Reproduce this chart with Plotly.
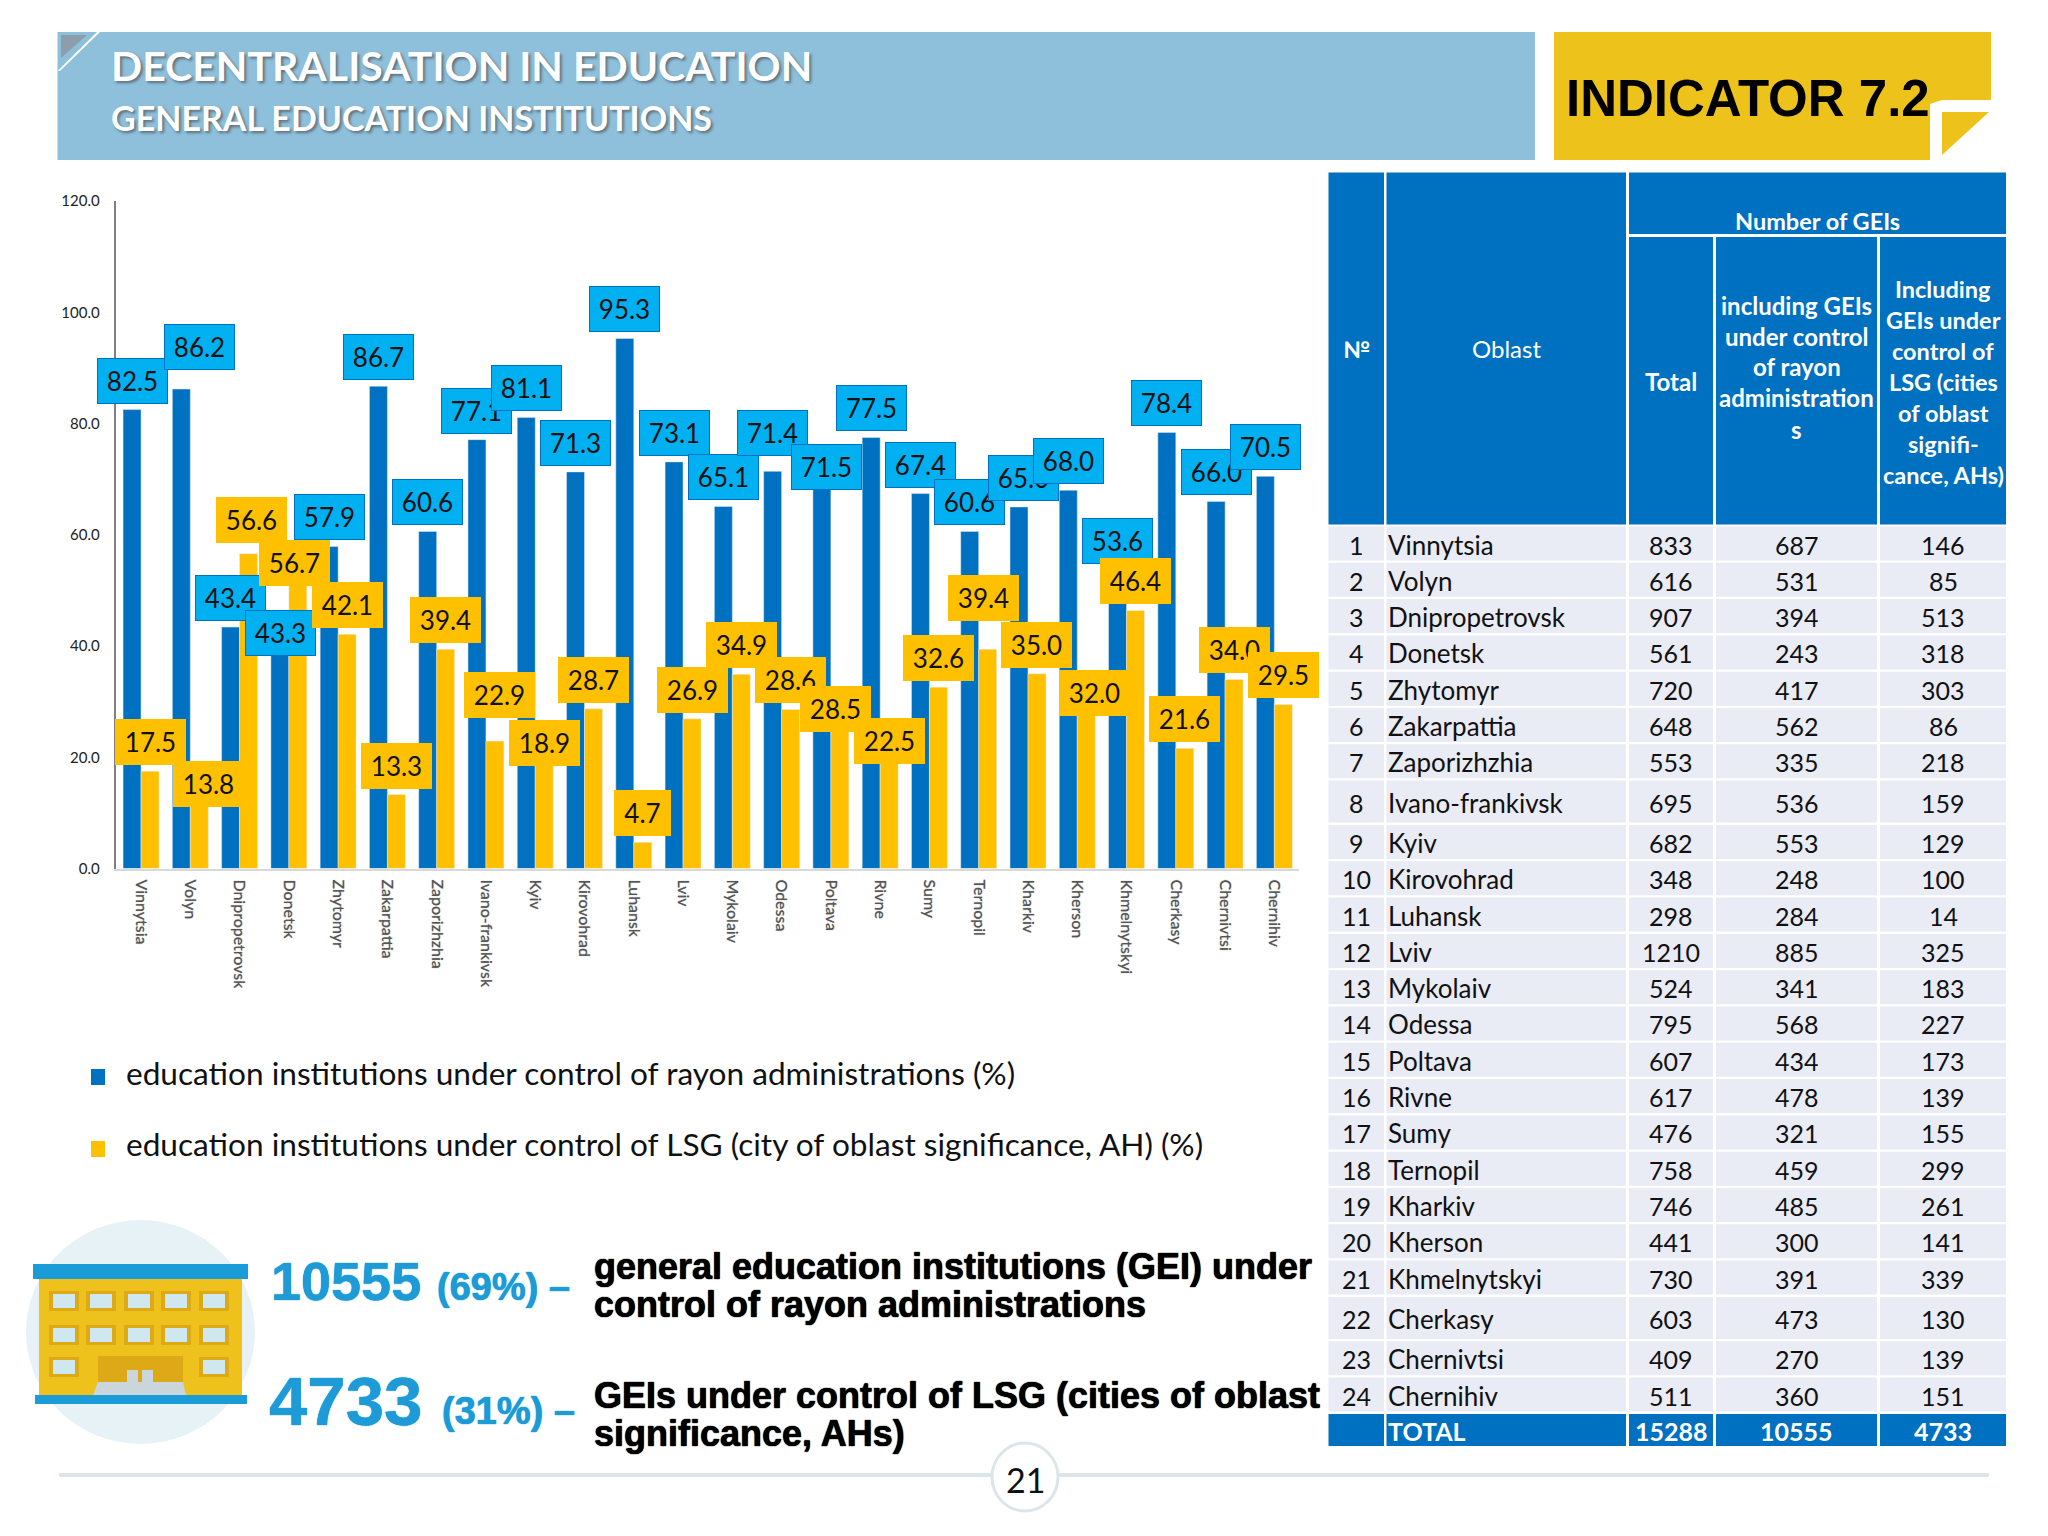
import plotly.graph_objects as go

# ---------- data ----------
oblasts = ["Vinnytsia","Volyn","Dnipropetrovsk","Donetsk","Zhytomyr","Zakarpattia","Zaporizhzhia",
           "Ivano-frankivsk","Kyiv","Kirovohrad","Luhansk","Lviv","Mykolaiv","Odessa","Poltava","Rivne",
           "Sumy","Ternopil","Kharkiv","Kherson","Khmelnytskyi","Cherkasy","Chernivtsi","Chernihiv"]
rayon_pct = [82.5,86.2,43.4,43.3,57.9,86.7,60.6,77.1,81.1,71.3,95.3,73.1,65.1,71.4,71.5,77.5,67.4,60.6,65.0,68.0,53.6,78.4,66.0,70.5]
lsg_pct = [17.5,13.8,56.6,56.7,42.1,13.3,39.4,22.9,18.9,28.7,4.7,26.9,34.9,28.6,28.5,22.5,32.6,39.4,35.0,32.0,46.4,21.6,34.0,29.5]
total_gei = [833,616,907,561,720,648,553,695,682,348,298,1210,524,795,607,617,476,758,746,441,730,603,409,511]
rayon_gei = [687,531,394,243,417,562,335,536,553,248,284,885,341,568,434,478,321,459,485,300,391,473,270,360]
lsg_gei = [146,85,513,318,303,86,218,159,129,100,14,325,183,227,173,139,155,299,261,141,339,130,139,151]
totals = ["15288","10555","4733"]
y_ticks = [0,20,40,60,80,100,120]

# label displacement from the usual place above its bar, in screen px (dx, dy up)
rayon_label_shift = {1:(18,13),3:(1,-34),13:(0,9),14:(5,-25),18:(5,0)}
lsg_label_shift = {1:(9,-21),2:(3,5),3:(-3,-39),7:(5,17),8:(0,-9),14:(-4,-28),15:(0,-27),17:(-4,22),19:(8,-31)}

# ---------- palette / fonts ----------
BLUE, ORANGE, SKY = "#0070C0", "#FFC000", "#00B0F0"
LATO, ARIAL = "Lato", "Liberation Sans"
W, H = 2048, 1536
PX, PY = lambda v: v / W, lambda v: 1 - v / H

fig = go.Figure()
fig.add_bar(x=oblasts, y=rayon_pct, marker_color=BLUE, name="rayon", hoverinfo="skip")
fig.add_bar(x=oblasts, y=lsg_pct, marker_color=ORANGE, name="lsg", hoverinfo="skip")

shapes, notes = [], []
def rect(x0, y0, x1, y1, color, line=None, lw=0):
    shapes.append(dict(type="rect", xref="paper", yref="paper", x0=PX(x0), x1=PX(x1), y0=PY(y0), y1=PY(y1),
                       fillcolor=color, line=dict(color=line or color, width=lw), layer="below"))
def poly(points, color):
    path = "M " + " L ".join(f"{PX(a)},{PY(b)}" for a, b in points) + " Z"
    shapes.append(dict(type="path", xref="paper", yref="paper", path=path, fillcolor=color, line=dict(width=0), layer="below"))
def ellipse(x0, y0, x1, y1, color, line=None, lw=0):
    shapes.append(dict(type="circle", xref="paper", yref="paper", x0=PX(x0), x1=PX(x1), y0=PY(y0), y1=PY(y1),
                       fillcolor=color, line=dict(color=line or color, width=lw), layer="below"))
def text(x, y, s, size, color="#000000", family=LATO, weight=400, anchor="center", shadow=None):
    font = dict(size=size, color=color, family=family, weight=weight)
    if shadow:
        font["shadow"] = shadow
    notes.append(dict(xref="paper", yref="paper", x=PX(x), y=PY(y), text=s, showarrow=False, xanchor=anchor,
                      yanchor="middle", font=font, borderpad=0))

# ---------- header ----------
rect(57.5, 32, 1535, 160, "#8EC0DC")
poly([(61, 35), (87, 35), (61, 58)], "#8C9EAB")
poly([(97, 32), (100, 32), (60, 71), (57.5, 71)], "#FFFFFF")
SH = "2px 2px 3px #5f6f78"
text(110, 65, "DECENTRALISATION IN EDUCATION", 41, "#FFFFFF", LATO, 700, "left", SH)
text(110, 118, "GENERAL EDUCATION INSTITUTIONS", 34, "#FFFFFF", LATO, 700, "left", SH)
poly([(1554, 32), (1991, 32), (1991, 100), (1942, 100), (1930, 104), (1930, 160), (1554, 160)], "#EDC21B")
poly([(1942, 112), (1989, 112), (1942, 155)], "#EDC21B")
text(1565, 98, "INDICATOR 7.2", 51, "#000000", ARIAL, 700, "left")

# ---------- bar labels ----------
for series, bar_dx, fill, edge, shifts in ((rayon_pct, -9, SKY, BLUE, rayon_label_shift),
                                           (lsg_pct, 9, ORANGE, ORANGE, lsg_label_shift)):
    for i, v in enumerate(series):
        dx, dy = shifts.get(i, (0, 0))
        s = f"{v:.1f}"
        notes.append(dict(x=oblasts[i], y=v, xref="x", yref="y", text=s, showarrow=False,
                          xshift=bar_dx + dx, yshift=29 + dy, width=69 if v >= 10 else 55, height=44,
                          bgcolor=fill, bordercolor=edge, borderwidth=1, borderpad=0, align="center", valign="middle",
                          font=dict(size=26, color="#111111", family=LATO)))

# ---------- legend ----------
rect(91, 1069, 105, 1085, BLUE)
rect(91, 1141, 105, 1157, ORANGE)
text(125, 1073, "education institutions under control of rayon administrations (%)", 31.6, "#111111", LATO, 400, "left")
text(125, 1144, "education institutions under control of LSG (city of oblast significance, AH) (%)", 31.6, "#111111", LATO, 400, "left")

# ---------- building ----------
ellipse(26, 1220, 255, 1444, "#E6F2F6")
rect(39, 1279, 242, 1395, "#EFC11D")
rect(33, 1264, 248, 1279, "#1A9CD8")
rect(35, 1395, 247, 1404, "#1A9CD8")
for wy, cols in ((1301, (64, 101, 139, 176, 214)), (1335, (64, 101, 139, 176, 214)), (1367, (64, 214))):
    for wx in cols:
        rect(wx - 15, wy - 10, wx + 15, wy + 10, "#DDA917")
        rect(wx - 11, wy - 7, wx + 11, wy + 7, "#CFE7EE")
rect(98, 1356, 183, 1385, "#DDA917")
poly([(98, 1382), (183, 1382), (186, 1395), (93, 1395)], "#CBD6DC")
rect(127, 1370, 138, 1382, "#CBD6DC")
rect(142, 1370, 153, 1382, "#CBD6DC")

# ---------- key figures ----------
C = "#1E9BD7"
HEAVY = "0 0 1px #000000, 0 0 1px #000000"
HEAVY_C = "0 0 1px #1E9BD7, 0 0 1px #1E9BD7"
text(270, 1281, "10555", 54, C, ARIAL, 700, "left", HEAVY_C)
text(436, 1287, "(69%) –", 38, C, ARIAL, 700, "left", HEAVY_C)
text(268, 1401, "4733", 69, C, ARIAL, 700, "left", HEAVY_C)
text(441, 1411, "(31%) –", 38, C, ARIAL, 700, "left", HEAVY_C)
text(593, 1266, "general education institutions (GEI) under", 36, "#000000", ARIAL, 700, "left", HEAVY)
text(593, 1304, "control of rayon administrations", 36, "#000000", ARIAL, 700, "left", HEAVY)
text(593, 1395, "GEIs under control of LSG (cities of oblast", 36, "#000000", ARIAL, 700, "left", HEAVY)
text(593, 1433, "significance, AHs)", 36, "#000000", ARIAL, 700, "left", HEAVY)

# ---------- footer ----------
rect(59, 1473, 1989, 1477, "#DCE6EA")
ellipse(992, 1443, 1058, 1511, "#FFFFFF", "#DCE6EA", 3)
text(1025, 1479, "21", 34, "#111111", LATO)

# ---------- table ----------
col_edges = [(1328.5, 1384), (1386.5, 1626), (1629, 1713), (1716, 1877), (1880, 2006)]
col_mid = [(a + b) / 2 for a, b in col_edges]
rect(1328.5, 172.5, col_edges[0][1], 524.5, BLUE)
rect(*(col_edges[1][0], 172.5), col_edges[1][1], 524.5, BLUE)
rect(1629, 172.5, 2006, 234, BLUE)
for a, b in col_edges[2:]:
    rect(a, 237, b, 524.5, BLUE)
text(col_mid[0], 349, "№", 23, "#FFFFFF", LATO, 700)
text(col_mid[1], 349, "Oblast", 24, "#FFFFFF", LATO)
text(1817, 221, "Number of GEIs", 23.5, "#FFFFFF", LATO, 700)
text(col_mid[2], 382, "Total", 24, "#FFFFFF", LATO, 700)
head_rayon = ["including GEIs", "under control", "of rayon", "administration", "s"]
head_lsg = ["Including", "GEIs under", "control of", "LSG (cities", "of oblast", "signifi-", "cance, AHs)"]
for k, s in enumerate(head_rayon):
    text(col_mid[3], 305 + 31 * k, s, 24, "#FFFFFF", LATO, 700)
for k, s in enumerate(head_lsg):
    text(col_mid[4], 289 + 31 * k, s, 23.5, "#FFFFFF", LATO, 700)

y = 526.5
for i, name in enumerate(oblasts):
    h = 42 if i in (7, 21) else 34
    pitch = 44.4 if i in (7, 21) else 36.3
    for a, b in col_edges:
        rect(a, y, b, y + h, "#E9EBF5")
    ym = y + h / 2 + 1
    text(col_mid[0], ym, str(i + 1), 25, "#111111")
    text(1387, ym, name, 26, "#111111", LATO, 400, "left")
    text(col_mid[2], ym, str(total_gei[i]), 25, "#111111")
    text(col_mid[3], ym, str(rayon_gei[i]), 25, "#111111")
    text(col_mid[4], ym, str(lsg_gei[i]), 25, "#111111")
    y += pitch
for a, b in col_edges:
    rect(a, 1414, b, 1446, BLUE)
text(1387, 1431, "TOTAL", 25, "#FFFFFF", LATO, 700, "left")
for k, s in enumerate(totals):
    text(col_mid[2 + k], 1431, s, 25, "#FFFFFF", LATO, 700)

fig.update_layout(
    width=W, height=H, margin=dict(l=0, r=0, t=0, b=0, pad=0), autosize=False,
    paper_bgcolor="#FFFFFF", plot_bgcolor="rgba(0,0,0,0)", showlegend=False,
    barmode="group", bargap=0.27, bargroupgap=0,
    shapes=shapes, annotations=notes,
    xaxis=dict(domain=[PX(116.4), PX(1299)], type="category", range=[-0.5, 23.5], automargin=False,
               tickangle=90, ticks="outside", ticklen=6,
               tickcolor="rgba(0,0,0,0)", showline=True, linecolor="#D9D9D9", linewidth=1.5, showgrid=False,
               tickfont=dict(size=16, color="#555555", family=LATO, shadow="0 0 1px #777777")),
    yaxis=dict(domain=[PY(868.5), PY(201)], range=[0, 120], automargin=False, tickmode="array", tickvals=y_ticks,
               tickformat=".1f", ticks="outside", ticklen=12, tickcolor="rgba(0,0,0,0)", showline=True,
               linecolor="#808080", linewidth=1.5, showgrid=False, zeroline=False,
               tickfont=dict(size=15, color="#222222", family=LATO)),
)
fig.write_html("out.html", config={"displayModeBar": False},
               post_script="document.body.style.margin='0';document.body.style.overflow='hidden';")
